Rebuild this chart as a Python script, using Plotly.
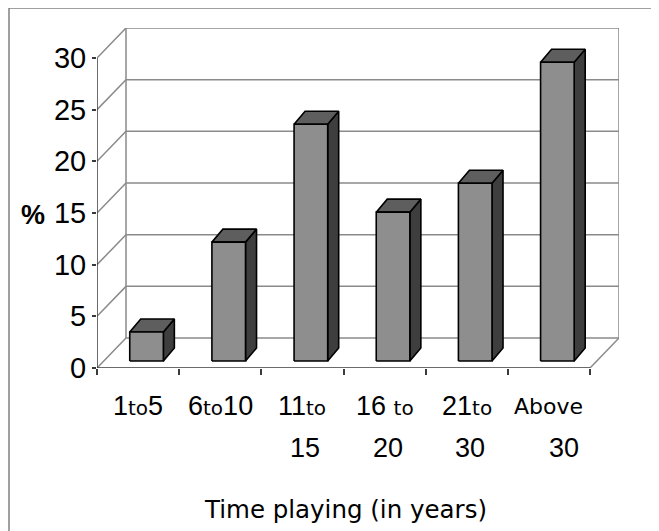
import plotly.graph_objects as go

# ---- data ----
categories_line1 = ["1to5", "6to10", "11to", "16 to", "21to", "Above"]
categories_line2 = ["", "", "15", "20", "30", "30"]
values = [2.8, 11.5, 22.9, 14.4, 17.2, 28.9]
y_ticks = [0, 5, 10, 15, 20, 25, 30]

# ---- geometry (data units) ----
n = len(values)
floor_dx, floor_dy = 0.353, 2.90      # full depth of the floor
bar_sx, bar_sy = 0.103, 0.68          # bar front-face depth shift
bar_ddx, bar_ddy = 0.134, 1.26        # bar depth
bar_w = 0.409
x0, x1 = -0.5, n - 0.5
ymax = max(y_ticks)

OFF = 8  # page body margin compensation
W, H = 659 - OFF, 531 - OFF
ml, mt = 97 - OFF, 28 - OFF
xr_range = [x0, x1 + floor_dx]
yr_range = [0, ymax + floor_dy]
plot_w = 522
plot_h = 340
mr = W - ml - plot_w
mb = H - mt - plot_h

GRID = "#8a8a8a"
AXIS = "#3a3a3a"
FRONT = "#8e8e8e"
TOP = "#5e5e5e"
SIDE = "#3e3e3e"

fig = go.Figure()

def seg(xs, ys, color, width=1.5):
    fig.add_trace(go.Scatter(x=xs, y=ys, mode="lines",
                             line=dict(color=color, width=width),
                             hoverinfo="skip", showlegend=False))

# back-wall grid lines and diagonals
for v in y_ticks:
    seg([x0, x0 + floor_dx, x1 + floor_dx], [v, v + floor_dy, v + floor_dy], GRID)
# wall verticals
seg([x0 + floor_dx, x0 + floor_dx], [floor_dy, ymax + floor_dy], GRID)
seg([x1 + floor_dx, x1 + floor_dx], [floor_dy, ymax + floor_dy], GRID)
# floor right diagonal
seg([x1, x1 + floor_dx], [0, floor_dy], GRID)
# front axes
seg([x0, x0], [0, ymax], AXIS)
seg([x0, x1], [0, 0], AXIS)

def poly(xs, ys, color):
    fig.add_trace(go.Scatter(x=xs + [xs[0]], y=ys + [ys[0]], mode="lines",
                             fill="toself", fillcolor=color,
                             line=dict(color="black", width=1.6),
                             hoverinfo="skip", showlegend=False))

for i, v in enumerate(values):
    xl = i - bar_w / 2 + bar_sx
    xr = i + bar_w / 2 + bar_sx
    yb = bar_sy
    yt = bar_sy + v
    poly([xr, xr + bar_ddx, xr + bar_ddx, xr], [yb, yb + bar_ddy, yt + bar_ddy, yt], SIDE)
    poly([xl, xr, xr + bar_ddx, xl + bar_ddx], [yt, yt, yt + bar_ddy, yt + bar_ddy], TOP)
    poly([xl, xr, xr, xl], [yb, yb, yt, yt], FRONT)

# reference-pixel -> paper conversion (plot area: x 97..619, y 28..368 in reference)
def px_to_paper_x(px):
    return (px - 97) / plot_w

def px_to_paper_y(py):
    return (368 - py) / plot_h

NARROW = "Liberation Sans Narrow, Arial Narrow, Liberation Sans, Arial, sans-serif"
SANS = "DejaVu Sans, Verdana, sans-serif"

def fmt(label):
    parts = []
    buf = ""
    mode = None
    for ch in label:
        m = "d" if ch.isdigit() else "t"
        if ch == " ":
            m = mode or "d"
        if m != mode and buf:
            parts.append((mode, buf))
            buf = ""
        mode = m
        buf += ch
    if buf:
        parts.append((mode, buf))
    s = ""
    for m, b in parts:
        if m == "d":
            s += b
        else:
            size = 20 if b.strip() == "to" else 22
            s += "<span style='font-family:DejaVu Sans;font-size:%dpx'>%s</span>" % (size, b)
    return s

annotations = []
for i, (l1, l2) in enumerate(zip(categories_line1, categories_line2)):
    annotations.append(dict(x=i, y=px_to_paper_y(406), xref="x", yref="paper",
                            text=fmt(l1), showarrow=False, xanchor="center", yanchor="middle",
                            font=dict(family=NARROW, size=27, color="black")))
    if l2:
        annotations.append(dict(x=i, y=px_to_paper_y(448), xref="x", yref="paper",
                                text=l2, showarrow=False, xanchor="center", yanchor="middle",
                                xshift=15 if i == n - 1 else 3,
                                font=dict(family=NARROW, size=27, color="black")))

annotations.append(dict(x=px_to_paper_x(33), y=px_to_paper_y(215), xref="paper", yref="paper",
                        text="<b>%</b>", showarrow=False, xanchor="center", yanchor="middle",
                        font=dict(family=NARROW, size=27, color="black")))
annotations.append(dict(x=px_to_paper_x(345), y=px_to_paper_y(509), xref="paper", yref="paper",
                        text="Time playing (in years)", showarrow=False,
                        xanchor="center", yanchor="middle",
                        font=dict(family=SANS, size=24.5, color="black")))

shapes = [
    dict(type="line", xref="paper", yref="paper",
         x0=px_to_paper_x(9), y0=px_to_paper_y(8), x1=px_to_paper_x(659), y1=px_to_paper_y(8),
         line=dict(color="#808080", width=1.5)),
    dict(type="line", xref="paper", yref="paper",
         x0=px_to_paper_x(9), y0=px_to_paper_y(8), x1=px_to_paper_x(9), y1=px_to_paper_y(531),
         line=dict(color="#808080", width=1.5)),
]

fig.update_layout(
    width=W, height=H,
    margin=dict(l=ml, r=mr, t=mt, b=mb, autoexpand=False),
    paper_bgcolor="white", plot_bgcolor="white",
    showlegend=False,
    annotations=annotations,
    shapes=shapes,
    xaxis=dict(range=xr_range, showgrid=False, zeroline=False, showline=False,
               tickvals=[x0 + k for k in range(n + 1)], ticks="outside", ticklen=6,
               tickcolor=AXIS, tickwidth=1.5, showticklabels=False, fixedrange=True),
    yaxis=dict(range=yr_range, showgrid=False, zeroline=False, showline=False,
               tickvals=y_ticks, ticktext=[str(t) for t in y_ticks],
               ticks="outside", ticklen=4, tickcolor=AXIS, tickwidth=1.5,
               tickfont=dict(family=NARROW, size=29, color="black"), fixedrange=True),
)

fig.write_html("out.html")
